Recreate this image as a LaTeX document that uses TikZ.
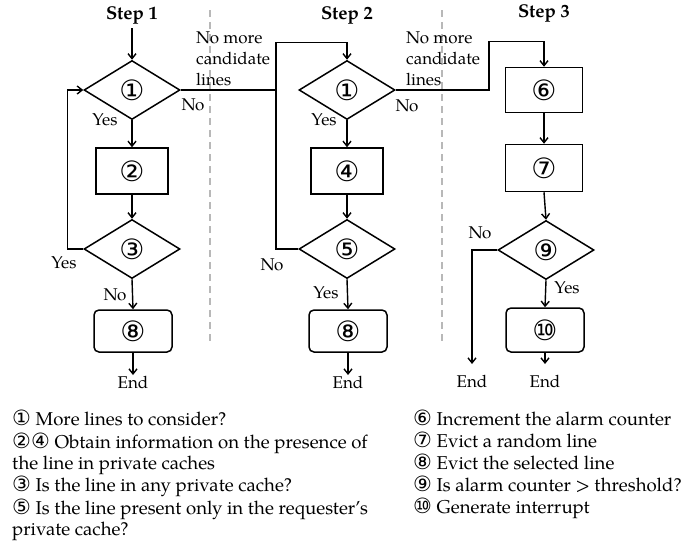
\documentclass[tikz,border=0pt]{standalone}
\usepackage{fontspec}
\setmainfont{TeX Gyre Pagella}
\newfontfamily\circfont{DejaVu Sans}
\usetikzlibrary{shapes.geometric,arrows.meta}
\newcommand\circnum[1]{{\circfont\fontsize{21}{21}\selectfont #1}}

\begin{document}
\begin{tikzpicture}[x=1pt,y=-1pt,
  every node/.style={font=\fontsize{17}{21}\selectfont},
  dec/.style={diamond, draw, line width=1.5pt, minimum width=96pt,
    minimum height=59pt, inner sep=0pt, aspect=1.6},
  proc/.style={rectangle, draw, line width=1.5pt, minimum width=72pt,
    minimum height=46pt, inner sep=0pt},
  term/.style={rectangle, rounded corners=5pt, draw, line width=1.5pt,
    minimum width=78pt, minimum height=42pt, inner sep=0pt},
  num/.style={font=\circfont\fontsize{28}{28}\selectfont},
  flow/.style={line width=1.4pt, -{Straight Barb[length=5pt,width=8pt]}},
  link/.style={line width=1.4pt},
  lbl/.style={inner sep=0pt},
  title/.style={font=\bfseries\fontsize{18.5}{21}\selectfont},
  endlbl/.style={inner sep=0pt, anchor=north},
  note/.style={inner sep=0pt, align=left, anchor=west},
  legend/.style={inner sep=0pt, anchor=base west, font=\fontsize{18.6}{22}\selectfont},
  sep/.style={draw=black!28, line width=1.2pt, dash pattern=on 7pt off 5pt}
]
\useasboundingbox (0,0) rectangle (696,546);

% column separators
\draw[sep] (210,10) -- (210,345);
\draw[sep] (442,10) -- (442,345);

% column titles
\node[title] (s1) at (132,15) {Step 1};
\node[title] (s2) at (347,15) {Step 2};
\node[title] (s3) at (544,13) {Step 3};

% Step 1
\coordinate (in1) at (132,28);
\node[dec, num] (d1a) at (132,90) {①};
\node[proc, num] (b2) at (132,171) {②};
\node[dec, num] (d3) at (132,249) {③};
\node[term, num] (e8a) at (133,331) {⑧};
\node[endlbl] (end1) at (133,376) {End};

% Step 2
\node[dec, num] (d1b) at (347,90) {①};
\node[proc, num] (b4) at (347,171) {④};
\node[dec, num] (d5) at (347,249) {⑤};
\node[term, num] (e8b) at (348,331) {⑧};
\node[endlbl] (end2) at (348,376) {End};

% Step 3
\node[proc, num, minimum width=77pt, minimum height=45pt] (b6) at (544,90) {⑥};
\node[proc, num, minimum width=77pt, minimum height=47pt] (b7) at (544,168) {⑦};
\node[dec, num] (d9) at (546,250) {⑨};
\node[term, num, minimum height=44pt] (e10) at (545,330) {⑩};
\node[endlbl] (end3) at (545,375) {End};
\node[endlbl] (end4) at (472,375) {End};

% junction points of the "no more lines" exits
\coordinate (j1) at (276,90);
\coordinate (j2) at (489,90);

% Step 1 connectors
\draw[flow] (in1) -- (d1a.north);
\draw[flow] (d1a.south) -- (b2.north);
\draw[flow] (b2.south) -- (d3.north);
\draw[flow] (d3.south) -- (e8a.north);
\draw[flow] (e8a.south) -- ([yshift=1pt]end1.north);
\draw[flow] (d3.west) -- ++(-16,0) |- (d1a.west);
\draw[link] (d1a.east) -- (j1);

% Step 2 connectors
\draw[flow] (d5.west) -| (j1) |- ([yshift=17pt]d1b.north) -- (d1b.north);
\draw[flow] (d1b.south) -- (b4.north);
\draw[flow] (b4.south) -- (d5.north);
\draw[flow] (d5.south) -- (e8b.north);
\draw[flow] (e8b.south) -- ([yshift=1pt]end2.north);
\draw[flow] (d1b.east) -- (j2) |- ([yshift=25pt]b6.north) -- (b6.north);

% Step 3 connectors
\draw[flow] (b6.south) -- (b7.north);
\draw[flow] (b7.south) -- (d9.north);
\draw[flow] (d9.south) -- (e10.north);
\draw[flow] (e10.south) -- ([yshift=11pt]end3.north);
\draw[flow] (d9.west) -| ([yshift=11pt]end4.north);

% branch labels
\node[lbl] (y1) at (105,120) {Yes};
\node[lbl] (n1) at (193,105) {No};
\node[lbl] (y3) at (64,263) {Yes};
\node[lbl] (n3) at (115,295) {No};
\node[note] (m1) at (196,59) {No more\\candidate\\lines};
\node[lbl] (y1b) at (324,120) {Yes};
\node[lbl] (n1b) at (407,106) {No};
\node[lbl] (n5) at (272,265) {No};
\node[lbl] (y5) at (326,293) {Yes};
\node[note] (m2) at (406,59) {No more\\candidate\\lines};
\node[lbl] (n9) at (480,233) {No};
\node[lbl] (y9) at (567,288) {Yes};

% legend
\node[legend] (k1) at (12,425) {\circnum{①} More lines to consider?};
\node[legend] (k2) at (12,448) {\circnum{②④} Obtain information on the presence of};
\node[legend] (k2b) at (12,469) {the line in private caches};
\node[legend] (k3) at (12,491) {\circnum{③} Is the line in any private cache?};
\node[legend] (k5) at (12,514) {\circnum{⑤} Is the line present only in the requester’s};
\node[legend] (k5b) at (12,535) {private cache?};
\node[legend] (k6) at (413,425) {\circnum{⑥} Increment the alarm counter};
\node[legend] (k7) at (413,447) {\circnum{⑦} Evict a random line};
\node[legend] (k8) at (413,469) {\circnum{⑧} Evict the selected line};
\node[legend] (k9) at (413,491) {\circnum{⑨} Is alarm counter > threshold?};
\node[legend] (k10) at (413,513) {\circnum{⑩} Generate interrupt};
\end{tikzpicture}
\end{document}
